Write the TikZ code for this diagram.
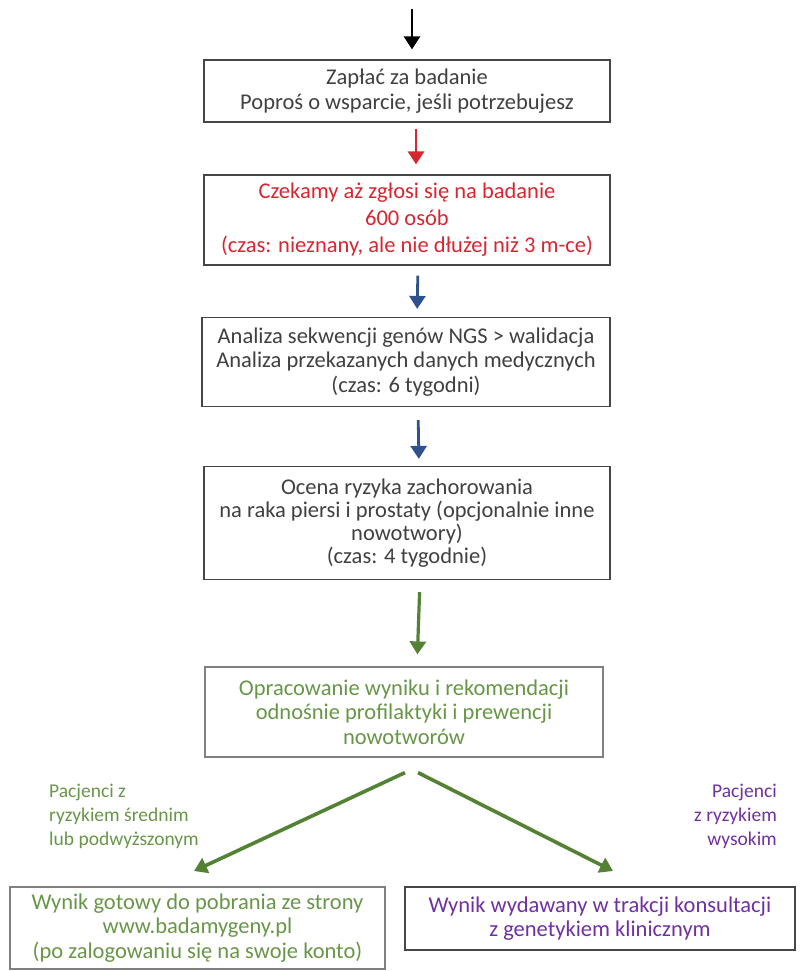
\documentclass[tikz,border=0pt]{standalone}
\usepackage{fontspec}
\setmainfont{Carlito}
\usetikzlibrary{arrows.meta}

\definecolor{txtgray}{RGB}{64,64,64}
\definecolor{boxgray}{RGB}{70,70,70}
\definecolor{stepred}{RGB}{214,38,48}
\definecolor{stepblue}{RGB}{47,82,143}
\definecolor{stepgreen}{RGB}{84,130,53}
\definecolor{lightgreen}{RGB}{104,150,72}
\definecolor{steppurple}{RGB}{112,48,160}

\tikzset{
  stepbox/.style={draw=boxgray, line width=1.2pt, align=center, inner sep=0pt,
    font=\fontsize{22.5}{24.5}\selectfont, text=txtgray},
  flow/.style={line width=2.8pt, -{Triangle[length=13pt, width=16pt]}},
  sidenote/.style={font=\fontsize{19.5}{24}\selectfont, inner sep=0pt}
}

\begin{document}
\begin{tikzpicture}[x=1pt, y=-1pt]
  \useasboundingbox (0,0) rectangle (808,971);

  \coordinate (entry) at (412,9);

  \node[stepbox, minimum width=406pt, minimum height=62pt] (pay) at (407,91)
    {Zapłać za badanie\\Poproś o wsparcie, jeśli potrzebujesz};
  \node[stepbox, minimum width=406pt, minimum height=90pt, text=stepred,
    font=\fontsize{22.5}{27}\selectfont] (wait) at (407,220)
    {Czekamy aż zgłosi się na badanie\\600 osób\\(czas: nieznany, ale nie dłużej niż 3 m-ce)};
  \node[stepbox, minimum width=408pt, minimum height=89pt] (ngs) at (406,362)
    {Analiza sekwencji genów NGS > walidacja\\Analiza przekazanych danych medycznych\\(czas: 6 tygodni)};
  \node[stepbox, minimum width=406pt, minimum height=113pt,
    font=\fontsize{22.5}{23}\selectfont] (risk) at (407,523)
    {Ocena ryzyka zachorowania\\na raka piersi i prostaty (opcjonalnie inne\\nowotwory)\\(czas: 4 tygodnie)};
  \node[stepbox, draw=gray, minimum width=398pt, minimum height=90pt, text=lightgreen] (report) at (404,712)
    {Opracowanie wyniku i rekomendacji\\odnośnie profilaktyki i prewencji\\nowotworów};

  \node[stepbox, draw=gray, minimum width=375pt, minimum height=82pt, text=lightgreen] (download) at (197.5,928)
    {Wynik gotowy do pobrania ze strony\\www.badamygeny.pl\\(po zalogowaniu się na swoje konto)};
  \node[stepbox, minimum width=390pt, minimum height=63pt, text=steppurple] (consult) at (600,918.5)
    {Wynik wydawany w trakcji konsultacji\\z genetykiem klinicznym};

  % risk groups
  \node[sidenote, text=lightgreen, align=left, anchor=west] (midrisk) at (49,816)
    {Pacjenci z\\ryzykiem średnim\\lub podwyższonym};
  \node[sidenote, text=steppurple, align=right, anchor=east] (highrisk) at (777,816)
    {Pacjenci\\z ryzykiem\\wysokim};

  \coordinate (ltip) at (194,871);
  \coordinate (rtip) at (613,871);

  \draw[flow, black, shorten >=10pt] (entry) -- (entry |- pay.north);
  \draw[flow, stepred, shorten <=6pt, shorten >=10pt] ([xshift=9pt]pay.south) -- ([xshift=9pt]wait.north);
  \draw[flow, stepblue, shorten <=10pt, shorten >=8pt] ([xshift=11pt]wait.south) -- ([xshift=11pt]ngs.north);
  \draw[flow, stepblue, shorten <=13pt, shorten >=7pt] ([xshift=12pt]ngs.south) -- ([xshift=12pt]risk.north);
  \draw[flow, stepgreen, line width=3.2pt, shorten <=12pt, shorten >=12pt] ([xshift=13pt]risk.south) -- ([xshift=13pt]report.north);
  \draw[flow, stepgreen, line width=3.6pt] ([shift={(1,15)}]report.south) -- (ltip);
  \draw[flow, stepgreen, line width=3.6pt] ([shift={(14,15)}]report.south) -- (rtip);
\end{tikzpicture}
\end{document}
